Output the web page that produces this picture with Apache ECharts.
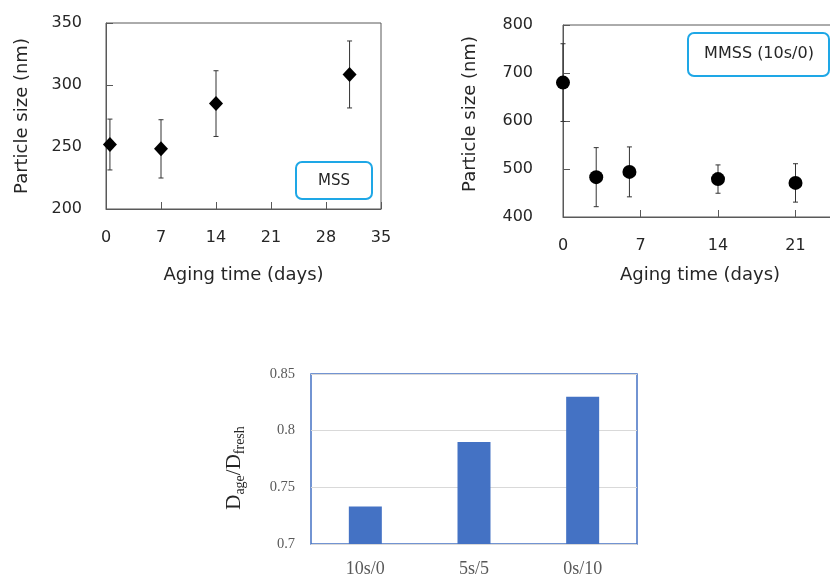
<!DOCTYPE html>
<html>
<head>
<meta charset="utf-8">
<script src="https://cdn.jsdelivr.net/npm/echarts@6/dist/echarts.min.js"></script>
<style>
  html, body { margin: 0; padding: 0; background: #fff; overflow: hidden; }
  #chart { width: 830px; height: 580px; }
</style>
</head>
<body>
<div id="chart"></div>
<script>
// MSS 粒径随老化时间
const mssDays = [0.5, 7, 14, 31]
const mssSize = [252, 248.5, 285, 308.5]
const mssErr = [20.5, 23.5, 26.5, 27]

// MMSS (10s/0) 粒径随老化时间
const mmssDays = [0, 3, 6, 14, 21]
const mmssSize = [680, 483, 494, 479, 471]
const mmssErr = [81, 61.5, 52, 29.5, 40]

// 老化前后粒径比
const ratioLabels = ['10s/0', '5s/5', '0s/10']
const ratioValues = [0.733, 0.79, 0.83]

const sans = 'DejaVu Sans'
const serif = 'Liberation Serif'
const ink = '#262626'
const frame = '#595959'
const boxBlue = '#1ea7e6'
const barBlue = '#4472C4'

// 误差棒
const errorBar = (params, api) => {
  const x = api.value(0)
  const top = api.coord([x, api.value(2)])
  const bot = api.coord([x, api.value(1)])
  const cap = 2.5
  const style = { stroke: '#333', lineWidth: 1 }
  return {
    type: 'group',
    children: [
      { type: 'line', shape: { x1: top[0], y1: top[1], x2: bot[0], y2: bot[1] }, style },
      { type: 'line', shape: { x1: top[0] - cap, y1: top[1], x2: top[0] + cap, y2: top[1] }, style },
      { type: 'line', shape: { x1: bot[0] - cap, y1: bot[1], x2: bot[0] + cap, y2: bot[1] }, style }
    ]
  }
}

const scatterXAxis = (gridIndex, max, nameGap, namePad) => ({
  gridIndex,
  type: 'value',
  min: 0,
  max,
  interval: 7,
  name: 'Aging time (days)',
  nameLocation: 'middle',
  nameGap,
  nameTextStyle: { fontFamily: sans, fontSize: 18, color: ink, padding: namePad },
  axisLine: { lineStyle: { color: frame, width: 1 } },
  axisTick: { inside: true, length: 7, lineStyle: { color: frame } },
  axisLabel: { fontFamily: sans, fontSize: 16, color: ink, margin: 21 },
  splitLine: { show: false }
})

const scatterYAxis = (gridIndex, min, max, interval, nameGap, labelMargin, namePad) => ({
  gridIndex,
  type: 'value',
  min,
  max,
  interval,
  name: 'Particle size (nm)',
  nameLocation: 'middle',
  nameGap,
  nameTextStyle: { fontFamily: sans, fontSize: 18, color: ink, padding: namePad },
  axisLine: { show: true, lineStyle: { color: frame, width: 1 } },
  axisTick: { inside: true, length: 7, lineStyle: { color: frame } },
  axisLabel: { fontFamily: sans, fontSize: 16, color: ink, margin: labelMargin },
  splitLine: { show: false }
})

const chart = echarts.init(document.getElementById('chart'))

const option = {
  backgroundColor: '#fff',
  animation: false,
  grid: [
    { left: 106, top: 23, width: 275, height: 186, outerBoundsMode: 'none', containLabel: false, show: true, borderColor: frame, borderWidth: 1, backgroundColor: 'transparent' },
    { left: 563, top: 25, width: 310, height: 192, outerBoundsMode: 'none', containLabel: false, show: true, borderColor: frame, borderWidth: 1, backgroundColor: 'transparent' },
    { left: 311, top: 374, width: 326, height: 170, outerBoundsMode: 'none', containLabel: false, show: true, borderColor: barBlue, borderWidth: 1.5, backgroundColor: 'transparent' }
  ],
  xAxis: [
    scatterXAxis(0, 35, 57, 0),
    scatterXAxis(1, 28, 49, [0, 36, 0, 0]),
    {
      gridIndex: 2,
      type: 'category',
      data: ratioLabels,
      axisLine: { show: false },
      axisTick: { show: false },
      axisLabel: { fontFamily: serif, fontSize: 18, color: frame, margin: 16 }
    }
  ],
  yAxis: [
    scatterYAxis(0, 200, 350, 50, 75, 24, 0),
    scatterYAxis(1, 400, 800, 100, 84, 30, [0, 0, 0, 14]),
    {
      gridIndex: 2,
      type: 'value',
      min: 0.7,
      max: 0.85,
      interval: 0.05,
      name: '{d|D}{s|age}{d|/D}{s|fresh}',
      nameLocation: 'middle',
      nameGap: 64,
      nameTextStyle: {
        padding: [0, 18, 0, 0],
        rich: {
          d: { fontFamily: serif, fontSize: 21, color: ink, verticalAlign: 'bottom', padding: [0, 0, 2, 0] },
          s: { fontFamily: serif, fontSize: 14, color: ink, verticalAlign: 'bottom' }
        }
      },
      axisLine: { show: false },
      axisTick: { show: false },
      axisLabel: { fontFamily: serif, fontSize: 14.5, color: frame, margin: 16 },
      splitLine: { lineStyle: { color: '#d9d9d9', width: 1 } }
    }
  ],
  series: [
    {
      type: 'custom',
      xAxisIndex: 0,
      yAxisIndex: 0,
      z: 2,
      renderItem: errorBar,
      data: mssDays.map((d, i) => [d, mssSize[i] - mssErr[i], mssSize[i] + mssErr[i]])
    },
    {
      type: 'scatter',
      xAxisIndex: 0,
      yAxisIndex: 0,
      z: 3,
      symbol: 'diamond',
      symbolSize: [14, 15],
      itemStyle: { color: '#000', opacity: 1 },
      data: mssDays.map((d, i) => [d, mssSize[i]])
    },
    {
      type: 'custom',
      xAxisIndex: 1,
      yAxisIndex: 1,
      z: 2,
      renderItem: errorBar,
      data: mmssDays.map((d, i) => [d, mmssSize[i] - mmssErr[i], mmssSize[i] + mmssErr[i]])
    },
    {
      type: 'scatter',
      xAxisIndex: 1,
      yAxisIndex: 1,
      z: 3,
      symbol: 'circle',
      symbolSize: 14,
      itemStyle: { color: '#000', opacity: 1 },
      data: mmssDays.map((d, i) => [d, mmssSize[i]])
    },
    {
      type: 'bar',
      xAxisIndex: 2,
      yAxisIndex: 2,
      barWidth: 33,
      itemStyle: { color: barBlue },
      data: ratioValues
    }
  ],
  graphic: [
    {
      type: 'rect',
      shape: { x: 296, y: 162, width: 76, height: 37, r: 6 },
      style: { fill: '#fff', stroke: boxBlue, lineWidth: 2 },
      z: 10
    },
    {
      type: 'text',
      x: 334,
      y: 181,
      style: { text: 'MSS', fontFamily: sans, fontSize: 15, fill: ink, align: 'center', verticalAlign: 'middle' },
      z: 11
    },
    {
      type: 'rect',
      shape: { x: 688, y: 33, width: 141, height: 43, r: 6 },
      style: { fill: '#fff', stroke: boxBlue, lineWidth: 2 },
      z: 10
    },
    {
      type: 'text',
      x: 759,
      y: 54,
      style: { text: 'MMSS (10s/0)', fontFamily: sans, fontSize: 16, fill: ink, align: 'center', verticalAlign: 'middle' },
      z: 11
    }
  ]
}

chart.setOption(option)
</script>
</body>
</html>
